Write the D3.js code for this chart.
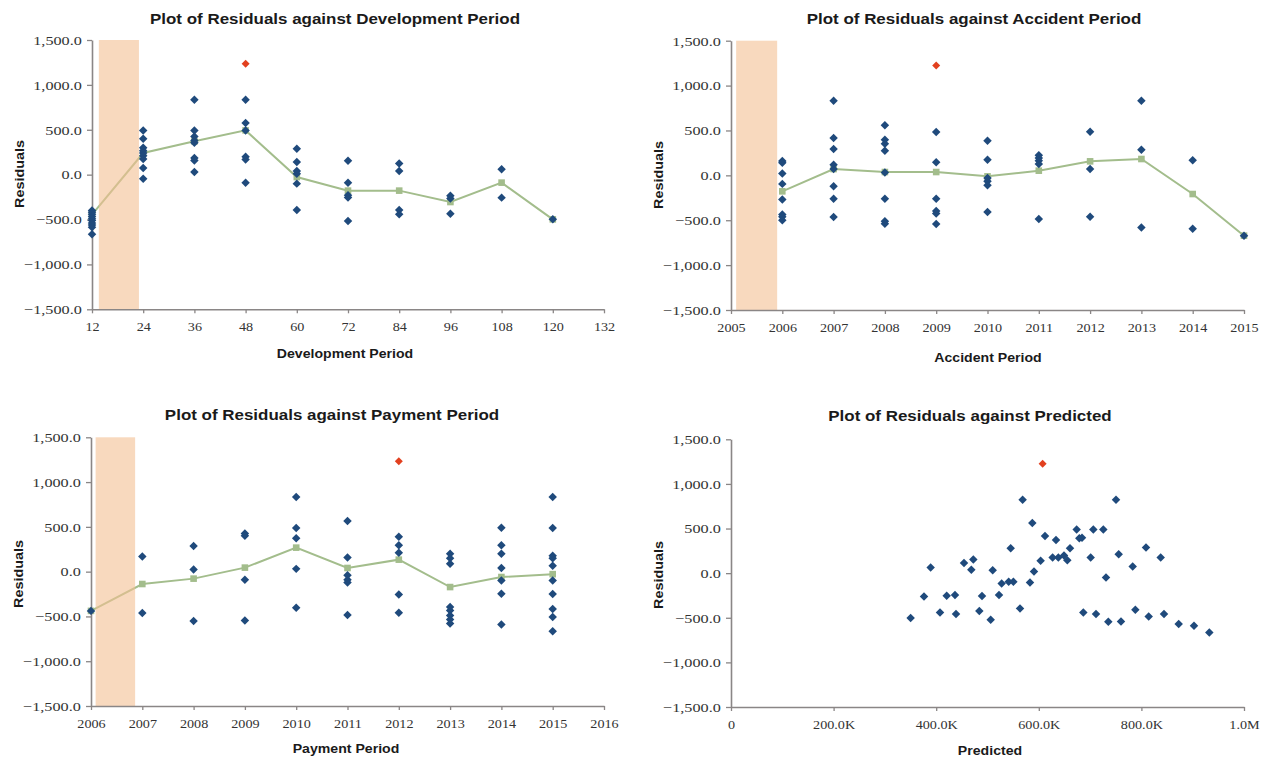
<!DOCTYPE html>
<html>
<head>
<meta charset="utf-8">
<script src="https://cdn.jsdelivr.net/npm/d3@7"></script>
<style>
  html, body { margin: 0; padding: 0; background: #fff; }
  svg { display: block; }
</style>
</head>
<body>
<svg id="chart" width="1262" height="759"></svg>
<script>
// ---------- data ----------
const residualTicks = [-1500, -1000, -500, 0, 500, 1000, 1500];

// Residuals by development period (months)
const devPeriods = [12, 24, 36, 48, 60, 72, 84, 96, 108, 120];
const devTicks = [12, 24, 36, 48, 60, 72, 84, 96, 108, 120, 132];
const devResiduals = [
  [-400, -420, -440, -465, -490, -510, -540, -560, -585, -665],
  [493, 400, 300, 265, 240, 210, 175, 75, -45],
  [835, 493, 425, 380, 356, 185, 158, 29],
  [835, 575, 493, 200, 170, -89],
  [289, 141, 40, 10, -100, -394],
  [156, -89, -230, -255, -516],
  [125, 40, -395, -440],
  [-235, -265, -435],
  [59, -256],
  [-498]
];
const devMeans = [-445, 241, 371, 493, -27, -178, -178, -305, -89, -498];
const devOutlier = [48, 1236];
const devBand = [13.6, 23];

// Residuals by accident period
const accYears = [2006, 2007, 2008, 2009, 2010, 2011, 2012, 2013, 2014, 2015];
const accTicks = [2005, 2006, 2007, 2008, 2009, 2010, 2011, 2012, 2013, 2014, 2015];
const accResiduals = [
  [160, 140, 20, -95, -270, -435, -460, -500],
  [830, 416, 293, 119, 70, -122, -260, -464],
  [557, 397, 353, 275, 33, -260, -512, -540],
  [483, 147, -260, -398, -425, -542],
  [386, 175, -30, -67, -110, -409],
  [223, 193, 164, 126, -487],
  [485, 70, -460],
  [830, 285, -580],
  [167, -594],
  [-672]
];
const accMeans = [-178, 70, 37, 37, -11, 52, 156, 182, -208, -672];
const accOutlier = [2009, 1225];
const accBand = [2005.1, 2005.9];

// Residuals by payment period
const payYears = [2006, 2007, 2008, 2009, 2010, 2011, 2012, 2013, 2014, 2015];
const payTicks = [2006, 2007, 2008, 2009, 2010, 2011, 2012, 2013, 2014, 2015, 2016];
const payResiduals = [
  [-438],
  [168, -462],
  [287, 24, -552],
  [425, 400, -90, -545],
  [834, 488, 374, 31, -403],
  [566, 157, -41, -90, -120, -485],
  [390, 294, 212, -254, -458],
  [200, 150, 88, -395, -435, -490, -535, -580],
  [490, 294, 201, 40, -100, -246, -589],
  [834, 488, 178, 150, 65, -100, -250, -418, -507, -666]
];
const payMeans = [-438, -138, -78, 45, 268, 41, 134, -172, -60, -28];
const payOutlier = [2012, 1233];
const payBand = [2006.09, 2006.86];

// Residuals against predicted values (thousands)
const predTicks = [0, 200, 400, 600, 800, 1000];
const predTickLabels = ["0", "200.0K", "400.0K", "600.0K", "800.0K", "1.0M"];
const predictedK = [
  568.5, 750.5, 587.4, 612.1, 633.5, 673.8, 706.3, 725.8, 679.0, 684.2,
  660.8, 545.2, 809.0, 755.7, 837.6, 701.1, 627.0, 638.1, 649.1, 655.6,
  603.6, 454.2, 472.4, 389.2, 468.5, 510.1, 590.6, 783.0, 731.0, 527.6,
  541.3, 550.4, 582.8, 376.2, 420.4, 436.6, 489.3, 522.4, 350.2, 407.4,
  438.6, 484.1, 506.2, 563.4, 686.8, 711.5, 735.5, 760.2, 788.2, 814.2,
  844.1, 872.7, 902.5, 932.4
];
const predResiduals = [
  823, 823, 562, 417, 372, 488, 488, 488, 391, 398,
  279, 279, 287, 212, 175, 175, 175, 175, 197, 145,
  138, 115, 152, 63, 37, 33, 18, 74, -49, -116,
  -97, -97, -105, -261, -254, -246, -257, -246, -503, -440,
  -459, -425, -522, -395, -440, -459, -544, -541, -410, -485,
  -459, -571, -589, -664
];
const predOutlier = [607.5, 1226];

// ---------- styling ----------
const SANS = "'Liberation Sans', Arial, sans-serif";
const SERIF = "'Liberation Serif', 'Times New Roman', serif";
const AXIS_COLOR = "#8a8686";
const POINT_COLOR = "#1f4a7c";
const OUTLIER_COLOR = "#e2401f";
const MEAN_COLOR = "#a3bd8c";
const BAND_COLOR = "#f3c093";
const STRETCH = 1.13;

const svg = d3.select("#chart");

// Excel-style diamond marker (square rotated 45 degrees)
const diamond = {
  draw(ctx, size) {
    const r = Math.sqrt(size / 2);
    ctx.moveTo(0, -r); ctx.lineTo(r, 0); ctx.lineTo(0, r); ctx.lineTo(-r, 0); ctx.closePath();
  }
};
const diamondPath = d3.symbol().type(diamond).size(36)();
const redDiamondPath = d3.symbol().type(diamond).size(32)();

function stretchedText(g, txt, x, y, size, rotate) {
  return g.append("text")
    .attr("transform", `translate(${x},${y})` + (rotate ? " rotate(-90)" : "") + ` scale(${STRETCH},1)`)
    .attr("text-anchor", "middle")
    .style("font-family", SANS)
    .style("font-weight", "bold")
    .style("font-size", size + "px")
    .style("fill", "#1a1a1a")
    .text(txt);
}

function drawPanel(p) {
  const g = svg.append("g");
  const x = d3.scaleLinear().domain(p.xDomain).range([p.box.left, p.box.right]);
  const y = d3.scaleLinear().domain([-1500, 1500]).range([p.box.bottom, p.box.top]);

  // mean line
  if (p.means) {
    const pts = p.categories.map((c, i) => [c, p.means[i]]);
    g.append("path")
      .datum(pts)
      .attr("d", d3.line().x(d => x(d[0])).y(d => y(d[1])))
      .attr("fill", "none")
      .attr("stroke", MEAN_COLOR)
      .attr("stroke-width", 2);
  }

  // shaded band (translucent so the mean line shows through)
  if (p.band) {
    g.append("rect")
      .attr("x", x(p.band[0]))
      .attr("y", y(1500))
      .attr("width", x(p.band[1]) - x(p.band[0]))
      .attr("height", y(-1500) - y(1500))
      .attr("fill", BAND_COLOR)
      .attr("fill-opacity", 0.6);
  }

  if (p.means) {
    g.selectAll("rect.mean")
      .data(p.categories.map((c, i) => [c, p.means[i]]))
      .join("rect")
      .attr("class", "mean")
      .attr("x", d => x(d[0]) - 3.3)
      .attr("y", d => y(d[1]) - 3.3)
      .attr("width", 6.6)
      .attr("height", 6.6)
      .attr("fill", MEAN_COLOR);
  }

  // axes
  const yAxis = d3.axisLeft(y).tickValues(residualTicks)
    .tickFormat(d3.format(",.1f")).tickSize(5).tickSizeOuter(0).tickPadding(3.5);
  const gy = g.append("g").attr("transform", `translate(${p.box.left},0)`).call(yAxis);
  const xAxis = d3.axisBottom(x).tickValues(p.xTicks)
    .tickFormat(p.xFormat).tickSize(4).tickSizeOuter(0).tickPadding(8);
  const gx = g.append("g").attr("transform", `translate(0,${p.box.bottom})`).call(xAxis);

  [gy, gx].forEach(a => {
    a.select(".domain").attr("stroke", AXIS_COLOR).attr("stroke-width", 1.6);
    a.selectAll(".tick line").attr("stroke", AXIS_COLOR).attr("stroke-width", 1.3);
    a.selectAll("text")
      .style("font-family", SERIF)
      .style("font-size", "13.5px")
      .attr("fill", "#333");
  });
  gy.selectAll("text").attr("transform", "scale(1.2,1)");
  gx.selectAll("text").attr("transform", "scale(1.05,1)");

  // points
  const points = [];
  if (p.groups) {
    p.categories.forEach((c, i) => p.groups[i].forEach(v => points.push([c, v])));
  } else {
    p.xs.forEach((v, i) => points.push([v, p.ys[i]]));
  }
  g.selectAll("path.pt")
    .data(points)
    .join("path")
    .attr("class", "pt")
    .attr("d", diamondPath)
    .attr("transform", d => `translate(${x(d[0])},${y(d[1])})`)
    .attr("fill", POINT_COLOR);

  g.append("path")
    .attr("d", redDiamondPath)
    .attr("transform", `translate(${x(p.outlier[0])},${y(p.outlier[1])})`)
    .attr("fill", OUTLIER_COLOR);

  // titles
  stretchedText(g, p.title, p.titlePos[0], p.titlePos[1], 15);
  stretchedText(g, "Residuals", p.yTitlePos[0], p.yTitlePos[1], 12.7, true);
  stretchedText(g, p.xTitle, p.xTitlePos[0], p.xTitlePos[1], 12.5);
}

drawPanel({
  box: { left: 92, right: 604, top: 40, bottom: 309.3 },
  xDomain: [12, 132], xTicks: devTicks, xFormat: d3.format("d"),
  categories: devPeriods, groups: devResiduals, means: devMeans,
  outlier: devOutlier, band: devBand,
  title: "Plot of Residuals against Development Period", titlePos: [335, 24],
  yTitlePos: [23.5, 174], xTitle: "Development Period", xTitlePos: [345, 358]
});

drawPanel({
  box: { left: 731, right: 1244, top: 40.7, bottom: 310 },
  xDomain: [2005, 2015], xTicks: accTicks, xFormat: d3.format("d"),
  categories: accYears, groups: accResiduals, means: accMeans,
  outlier: accOutlier, band: accBand,
  title: "Plot of Residuals against Accident Period", titlePos: [974, 24],
  yTitlePos: [663, 175], xTitle: "Accident Period", xTitlePos: [988, 362]
});

drawPanel({
  box: { left: 91, right: 604, top: 437.3, bottom: 706 },
  xDomain: [2006, 2016], xTicks: payTicks, xFormat: d3.format("d"),
  categories: payYears, groups: payResiduals, means: payMeans,
  outlier: payOutlier, band: payBand,
  title: "Plot of Residuals against Payment Period", titlePos: [332, 420],
  yTitlePos: [23, 574], xTitle: "Payment Period", xTitlePos: [346, 753]
});

drawPanel({
  box: { left: 731, right: 1244, top: 439.3, bottom: 707 },
  xDomain: [0, 1000], xTicks: predTicks, xFormat: (d, i) => predTickLabels[i],
  xs: predictedK, ys: predResiduals, outlier: predOutlier,
  title: "Plot of Residuals against Predicted", titlePos: [970, 421],
  yTitlePos: [663, 575], xTitle: "Predicted", xTitlePos: [990, 755]
});
</script>
</body>
</html>
